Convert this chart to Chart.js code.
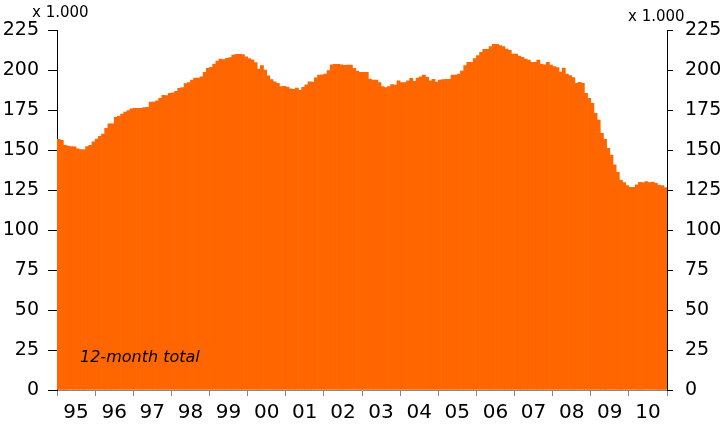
<!DOCTYPE html>
<html><head><meta charset="utf-8">
<script src="https://cdn.jsdelivr.net/npm/chart.js@4"></script>
<style>html,body{margin:0;padding:0;background:#fff}#wrap{width:727px;height:430px}</style>
</head><body><div id="wrap"><canvas id="c" width="727" height="430"></canvas></div>
<script>
// Year categories (two-digit labels on the x axis)
const yearLabels = ['95','96','97','98','99','00','01','02','03','04','05','06','07','08','09','10'];
const monthNames = ['Jan','Feb','Mar','Apr','May','Jun','Jul','Aug','Sep','Oct','Nov','Dec'];
// 12-month total, x 1.000, one value per month, Jan 1995 .. Dec 2010
const monthlyTotal = [
  156.6,156.0,153.0,152.4,152.1,152.0,150.8,150.2,150.2,152.1,152.9,155.1, // 1995
  156.8,158.5,160.0,163.5,166.3,166.3,170.4,171.1,172.5,173.7,174.7,175.8, // 1996
  176.1,176.1,176.1,176.5,176.7,179.9,180.0,180.7,182.3,184.1,184.0,185.4, // 1997
  185.7,186.7,188.6,189.0,191.5,192.1,193.7,195.0,195.0,195.8,198.5,201.0, // 1998
  201.7,203.7,205.6,206.9,206.5,207.3,207.7,209.4,209.8,209.8,209.6,208.3, // 1999
  207.2,206.3,204.7,200.6,202.8,200.0,196.3,194.0,192.6,191.7,189.6,189.8, // 2000
  189.4,188.3,187.9,188.7,187.3,189.2,190.8,192.6,192.5,195.1,196.9,197.0, // 2001
  197.5,199.6,203.2,203.5,203.5,203.3,202.9,203.1,203.0,201.0,199.4,198.6, // 2002
  198.6,198.5,194.4,193.7,193.7,192.1,189.6,189.0,189.6,190.9,190.6,193.3, // 2003
  192.1,192.1,193.3,194.8,192.9,195.0,195.8,196.9,195.4,193.3,194.2,192.5, // 2004
  193.7,194.0,194.2,194.2,196.9,196.9,197.5,199.4,202.7,204.8,204.8,207.1, // 2005
  209.0,211.1,212.9,212.9,214.6,216.0,216.0,215.2,214.6,213.1,212.3,210.0, // 2006
  210.0,208.7,207.9,206.9,206.2,204.8,204.8,206.2,203.5,203.3,204.8,203.1, // 2007
  202.1,201.5,198.7,201.2,197.5,196.5,195.2,191.7,192.3,191.7,185.4,182.3, // 2008
  179.2,172.9,168.7,160.4,156.7,151.0,146.9,140.8,136.1,131.1,129.6,127.7, // 2009
  126.7,126.7,128.3,129.8,129.6,130.2,129.6,130.0,129.2,128.0,127.7,126.5  // 2010
];
const yMin = 0, yMax = 225, yStep = 25;
const unitLabel = 'x 1.000';
const noteLabel = '12-month total';

const monthLabels = [];
yearLabels.forEach(y => monthNames.forEach(m => monthLabels.push(m + ' ' + y)));

const FONT = 'DejaVu Sans';
const textPlugin = {
  id: 'texts',
  afterDraw(chart) {
    const c = chart.ctx;
    c.save();
    c.fillStyle = '#000';
    c.textBaseline = 'alphabetic';
    c.textAlign = 'left';
    c.font = '15px "' + FONT + '"';
    c.fillText(unitLabel, 32, 17);
    c.fillText(unitLabel, 628, 21);
    c.font = 'italic 16px "' + FONT + '"';
    c.fillText(noteLabel, 80, 362);
    c.restore();
  }
};

const yCommon = (pos, tickLen, pad, width) => ({
  type: 'linear',
  position: pos,
  min: yMin, max: yMax,
  ticks: { stepSize: yStep, color: '#000', padding: pad, font: { family: FONT, size: 19 } },
  grid: { drawOnChartArea: false, drawTicks: true, tickLength: tickLen, color: '#000' },
  border: { display: true, color: '#000', width: 1 },
  afterFit(s) { s.width = width; }
});

new Chart(document.getElementById('c').getContext('2d'), {
  type: 'bar',
  data: {
    labels: monthLabels,
    datasets: [{
      data: monthlyTotal,
      backgroundColor: '#FF6600',
      borderWidth: 0,
      barPercentage: 1,
      categoryPercentage: 1,
      xAxisID: 'x',
      yAxisID: 'y'
    }]
  },
  options: {
    responsive: false,
    animation: false,
    devicePixelRatio: 1,
    layout: { padding: { top: 30, left: 0, right: 0, bottom: 0 } },
    plugins: { legend: { display: false }, tooltip: { enabled: false } },
    scales: {
      x: { display: false, offset: true },
      x2: {
        type: 'category',
        labels: yearLabels,
        position: 'bottom',
        offset: true,
        grid: { offset: true, drawOnChartArea: false, tickLength: 6, color: '#888' },
        border: { display: true, color: '#888' },
        ticks: { color: '#000', padding: 5, maxRotation: 0, autoSkip: false, font: { family: FONT, size: 20 } },
        afterFit(s) { s.height = 40; }
      },
      y: yCommon('left', 9, 9, 57),
      y2: yCommon('right', 6, 12, 60)
    }
  },
  plugins: [textPlugin]
});
</script>
</body></html>
